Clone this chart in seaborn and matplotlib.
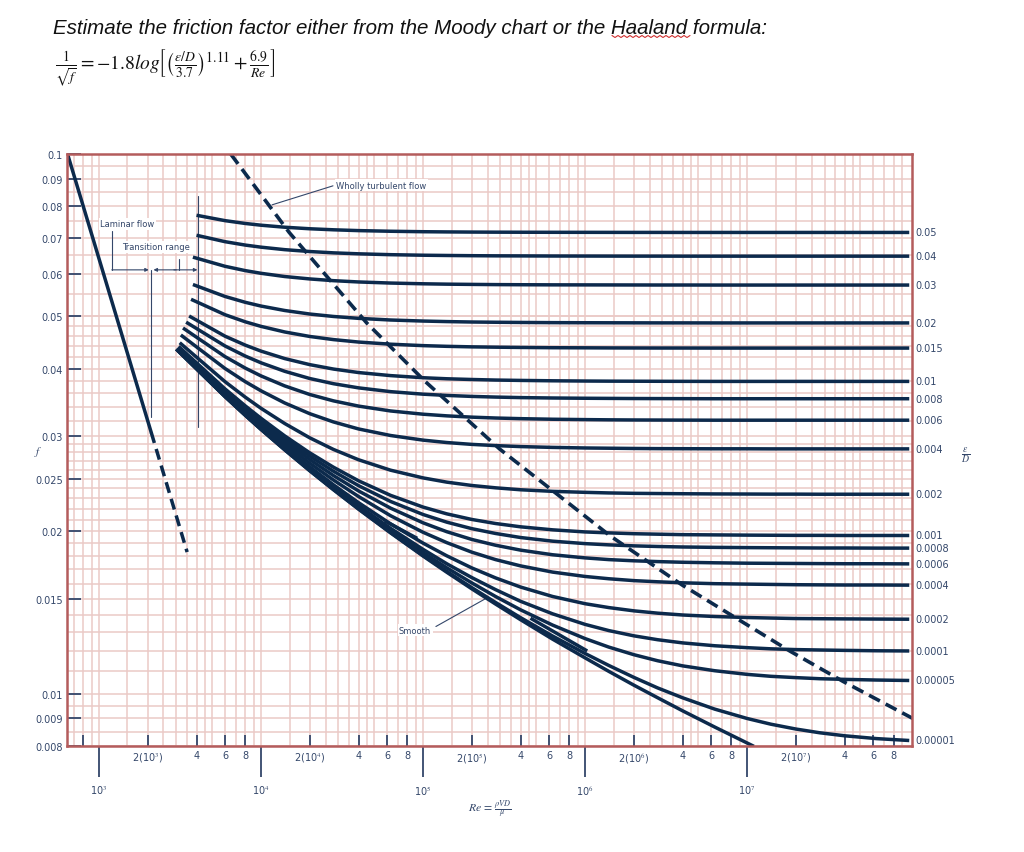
import matplotlib.pyplot as plt
import matplotlib.transforms as mtransforms
from matplotlib.lines import Line2D
from matplotlib.ticker import FixedLocator, FixedFormatter, NullLocator, NullFormatter
import seaborn as sns
import numpy as np
import pandas as pd


# relative roughness of each curve (labels on the right edge)
eps_labels = ['0.05', '0.04', '0.03', '0.02', '0.015', '0.01', '0.008', '0.006',
              '0.004', '0.002', '0.001', '0.0008', '0.0006', '0.0004', '0.0002',
              '0.0001', '0.00005', '0.00001']

# where each curve starts on the left (Re, f)
start_re = [4000, 4000, 3800, 3800, 3700, 3600, 3450, 3300, 3200, 3150,
            3100, 3100, 3080, 3060, 3040, 3020, 3010, 3000]
start_f = [0.0770, 0.0707, 0.0644, 0.0573, 0.0538, 0.0501, 0.0488, 0.0476, 0.0462,
           0.0447, 0.0440, 0.0438, 0.0436, 0.0436, 0.0435, 0.0435, 0.0435, 0.0435]

# f at these Reynolds numbers
re_grid = [6e3, 8e3, 1e4, 1.4e4, 2e4, 2.8e4, 4e4, 6.3e4, 1e5, 1.4e5, 2e5, 2.8e5, 4e5, 6.3e5,
           1e6, 1.4e6, 2e6, 2.8e6, 4e6, 6.3e6, 1e7, 1.4e7, 2e7, 2.8e7, 4e7, 6.3e7, 1e8]
f_rows = [
    [0.07525, 0.07435, 0.07380, 0.07317, 0.07269, 0.07237, 0.07212, 0.07192, 0.07178, 0.07172,
     0.07167, 0.07164, 0.07162, 0.07160, 0.07159, 0.07158, 0.07157, 0.07157] + [0.07156] * 9,
    [0.06879, 0.06780, 0.06720, 0.06649, 0.06596, 0.06559, 0.06532, 0.06508, 0.06493, 0.06486,
     0.06480, 0.06476, 0.06474, 0.06471, 0.06470, 0.06469, 0.06468, 0.06468] + [0.06467] * 9,
    [0.06193, 0.06080, 0.06011, 0.05929, 0.05868, 0.05825, 0.05793, 0.05766, 0.05748, 0.05739,
     0.05733, 0.05728, 0.05725, 0.05722, 0.05721, 0.05720, 0.05719, 0.05718, 0.05718] + [0.05717] * 8,
    [0.05445, 0.05311, 0.05227, 0.05129, 0.05052, 0.05000, 0.04960, 0.04925, 0.04903, 0.04892,
     0.04883, 0.04878, 0.04874, 0.04870, 0.04868, 0.04867, 0.04866, 0.04865, 0.04865] + [0.04864] * 8,
    [0.05037, 0.04887, 0.04793, 0.04680, 0.04591, 0.04530, 0.04483, 0.04442, 0.04415, 0.04402,
     0.04392, 0.04386, 0.04381, 0.04376, 0.04374, 0.04372, 0.04371, 0.04370, 0.04370] + [0.04369] * 8,
    [0.04596, 0.04424, 0.04313, 0.04178, 0.04071, 0.03995, 0.03936, 0.03885, 0.03850, 0.03833,
     0.03821, 0.03812, 0.03806, 0.03800, 0.03796, 0.03794, 0.03793, 0.03792, 0.03791] + [0.03790] * 8,
    [0.04408, 0.04222, 0.04103, 0.03957, 0.03837, 0.03753, 0.03687, 0.03628, 0.03589, 0.03570,
     0.03555, 0.03545, 0.03537, 0.03531, 0.03527, 0.03525, 0.03523, 0.03522, 0.03521] + [0.03520] * 8,
    [0.04212, 0.04011, 0.03880, 0.03718, 0.03584, 0.03488, 0.03411, 0.03341, 0.03295, 0.03272,
     0.03254, 0.03242, 0.03233, 0.03225, 0.03220, 0.03217, 0.03215, 0.03214, 0.03213] + [0.03212] * 8,
    [0.04004, 0.03785, 0.03641, 0.03457, 0.03302, 0.03188, 0.03094, 0.03009, 0.02950, 0.02920,
     0.02897, 0.02882, 0.02870, 0.02860, 0.02853, 0.02850, 0.02847, 0.02845, 0.02844, 0.02843,
     0.02843] + [0.02842] * 6,
    [0.03785, 0.03543, 0.03379, 0.03167, 0.02979, 0.02835, 0.02713, 0.02595, 0.02511, 0.02466,
     0.02431, 0.02407, 0.02387, 0.02371, 0.02361, 0.02355, 0.02351, 0.02349, 0.02347, 0.02345,
     0.02344, 0.02343, 0.02343] + [0.02342] * 4,
    [0.03670, 0.03414, 0.03238, 0.03004, 0.02794, 0.02628, 0.02480, 0.02331, 0.02217, 0.02154,
     0.02103, 0.02067, 0.02038, 0.02012, 0.01994, 0.01986, 0.01979, 0.01975, 0.01971, 0.01969,
     0.01967, 0.01966, 0.01965, 0.01965, 0.01964, 0.01964, 0.01964],
    [0.03647, 0.03387, 0.03209, 0.02971, 0.02755, 0.02583, 0.02429, 0.02271, 0.02148, 0.02079,
     0.02022, 0.01981, 0.01947, 0.01917, 0.01897, 0.01887, 0.01879, 0.01874, 0.01870, 0.01867,
     0.01865, 0.01864, 0.01863, 0.01862, 0.01862, 0.01861, 0.01861],
    [0.03623, 0.03360, 0.03180, 0.02937, 0.02715, 0.02536, 0.02375, 0.02207, 0.02073, 0.01996,
     0.01931, 0.01884, 0.01845, 0.01809, 0.01785, 0.01772, 0.01763, 0.01757, 0.01752, 0.01748,
     0.01745, 0.01744, 0.01743, 0.01742, 0.01741, 0.01741, 0.01740],
    [0.03600, 0.03332, 0.03150, 0.02902, 0.02673, 0.02488, 0.02319, 0.02137, 0.01991, 0.01905,
     0.01829, 0.01772, 0.01725, 0.01680, 0.01649, 0.01633, 0.01620, 0.01612, 0.01605, 0.01599,
     0.01596, 0.01594, 0.01592, 0.01591, 0.01590, 0.01590, 0.01589],
    [0.03575, 0.03305, 0.03119, 0.02865, 0.02632, 0.02438, 0.02259, 0.02064, 0.01901, 0.01801,
     0.01710, 0.01639, 0.01576, 0.01514, 0.01468, 0.01444, 0.01424, 0.01410, 0.01399, 0.01390,
     0.01384, 0.01381, 0.01378, 0.01377, 0.01376, 0.01375, 0.01374],
    [0.03563, 0.03291, 0.03104, 0.02849, 0.02610, 0.02413, 0.02229, 0.02025, 0.01851, 0.01741,
     0.01641, 0.01559, 0.01483, 0.01406, 0.01344, 0.01309, 0.01280, 0.01259, 0.01242, 0.01227,
     0.01217, 0.01211, 0.01207, 0.01205, 0.01203, 0.01201, 0.01200],
    [0.03556, 0.03284, 0.03096, 0.02840, 0.02599, 0.02400, 0.02213, 0.02006, 0.01826, 0.01711,
     0.01604, 0.01514, 0.01430, 0.01340, 0.01265, 0.01220, 0.01181, 0.01151, 0.01126, 0.01103,
     0.01086, 0.01077, 0.01071, 0.01066, 0.01063, 0.01060, 0.01058],
    [0.03552, 0.03280, 0.03089, 0.02832, 0.02591, 0.02390, 0.02201, 0.01989, 0.01804, 0.01685,
     0.01572, 0.01476, 0.01383, 0.01279, 0.01187, 0.01128, 0.01072, 0.01025, 0.009826, 0.009364,
     0.008996, 0.008780, 0.008600, 0.008465, 0.008356, 0.008256, 0.008190],
]

# smooth pipe curve (runs off the bottom near Re = 1e7)
smooth_re = [3000, 6e3, 8e3, 1e4, 1.4e4, 2e4, 2.8e4, 4e4, 6.3e4, 1e5, 1.4e5, 2e5, 2.8e5,
             4e5, 6.3e5, 1e6, 1.4e6, 2e6, 2.8e6, 4e6, 6.3e6, 1e7, 1.1e7]
smooth_f = [0.0435, 0.03551, 0.03279, 0.03088, 0.02830, 0.02588, 0.02387, 0.02197, 0.01986,
            0.01799, 0.01679, 0.01564, 0.01466, 0.01371, 0.01262, 0.01165, 0.01100, 0.01037,
            0.00983, 0.009294, 0.008675, 0.008102, 0.007988]

# two short extra strokes inside the lower bundle
strokeA_re = [5.8e4, 9.2e4]
strokeA_f = [0.0209, 0.0194]
strokeB_re = [4.6e5, 1.03e6]
strokeB_f = [0.0138, 0.0120]

# laminar flow line, solid then dashed into the critical zone
lam_re = [640, 2100]
lam_f = [0.100, 0.0305]
lam_dash_re = [2100, 3500]
lam_dash_f = [0.0305, 0.0183]

# boundary of the wholly turbulent region
wt_re = [6.5e3, 1.49e4, 4.5e4, 1.03e5, 2.97e5, 1.43e6, 3.97e6, 1.83e7, 3.9e7, 1.05e8]
wt_f = [0.100, 0.0716, 0.0486, 0.0379, 0.0284, 0.0196, 0.0159, 0.0120, 0.01054, 0.0090]

# axis ticks
y_ticks = [0.1, 0.09, 0.08, 0.07, 0.06, 0.05, 0.04, 0.03, 0.025, 0.02, 0.015, 0.01, 0.009, 0.008]
y_labels = ['0.1', '0.09', '0.08', '0.07', '0.06', '0.05', '0.04', '0.03', '0.025',
            '0.02', '0.015', '0.01', '0.009', '0.008']
x_major = [1e3, 1e4, 1e5, 1e6, 1e7]
x_major_labels = [r'10$^3$', r'10$^4$', r'10$^5$', r'10$^6$', r'10$^7$']


NAVY = '#0c2a4c'
INK = '#34476a'
GRID = '#ebcac6'
FRAME = '#b45c5c'

sns.set_style('white')
plt.rcParams['font.family'] = ['DejaVu Sans']
plt.rcParams['mathtext.fontset'] = 'stix'

fig = plt.figure(figsize=(10.24, 8.53), dpi=100)
ax = fig.add_axes([67 / 1024, 1 - 747 / 853, 845 / 1024, 592 / 853])
ax.set_xscale('log')
ax.set_yscale('log')
ax.set_xlim(635, 1.04e8)
ax.set_ylim(0.008, 0.1)

# graph-paper grid
v_mult = [1, 1.5, 2, 2.5, 3, 3.5, 4, 4.5, 5, 6, 7, 8, 9]
for dec in [1e2, 1e3, 1e4, 1e5, 1e6, 1e7]:
    for m in v_mult:
        ax.axvline(m * dec, color=GRID, lw=1.1, zorder=0)
h_lines = np.concatenate([np.arange(0.008, 0.0100, 0.0005), np.arange(0.010, 0.030, 0.001),
                          np.arange(0.030, 0.050, 0.002), np.arange(0.050, 0.1001, 0.005)])
for h in h_lines:
    ax.axhline(round(h, 5), color=GRID, lw=1.1, zorder=0)

# long-form table of all curves
rows = []
for i, lab in enumerate(eps_labels):
    for r, f in zip([start_re[i]] + re_grid, [start_f[i]] + f_rows[i]):
        rows.append({'curve': lab, 'Re': r, 'f': f})
for name, rr, ff in [('smooth', smooth_re, smooth_f), ('strokeA', strokeA_re, strokeA_f),
                     ('strokeB', strokeB_re, strokeB_f)]:
    for r, f in zip(rr, ff):
        rows.append({'curve': name, 'Re': r, 'f': f})
df = pd.DataFrame(rows)

sns.lineplot(data=df, x='Re', y='f', units='curve', estimator=None, sort=False,
             color=NAVY, lw=2.5, ax=ax, legend=False, zorder=3,
             solid_joinstyle='round', solid_capstyle='butt')

ax.plot(lam_re, lam_f, color=NAVY, lw=2.5, zorder=3)
ax.plot(lam_dash_re, lam_dash_f, color=NAVY, lw=2.5, linestyle=(0, (3.2, 1.8)), zorder=3)
ax.plot(wt_re, wt_f, color=NAVY, lw=2.6, linestyle=(0, (3.4, 1.8)), zorder=3)

# labels at the right end of every curve
trans = mtransforms.blended_transform_factory(ax.transAxes, ax.transData)
for lab, row in zip(eps_labels, f_rows):
    ax.text(1.004, row[-1], lab, transform=trans, ha='left', va='center',
            fontsize=7, color=INK, clip_on=False)

# axes styling
ax.set_xlabel('')
ax.set_ylabel('')
for sp in ax.spines.values():
    sp.set_color(FRAME)
    sp.set_linewidth(1.8)
    sp.set_zorder(4)

ax.yaxis.set_major_locator(FixedLocator(y_ticks))
ax.yaxis.set_major_formatter(FixedFormatter(y_labels))
ax.yaxis.set_minor_locator(NullLocator())
ax.yaxis.set_minor_formatter(NullFormatter())
ax.tick_params(axis='y', which='major', direction='in', length=10, width=1.3,
               color=INK, labelcolor=INK, labelsize=7, pad=3, left=True)

x_minor = [8e2]
x_minor_labels = ['']
for k in [3, 4, 5, 6, 7]:
    for m in [2, 4, 6, 8]:
        x_minor.append(m * 10 ** k)
        x_minor_labels.append(r'2(10$^{%d}$)' % k if m == 2 else str(m))
ax.xaxis.set_major_locator(FixedLocator(x_major))
ax.xaxis.set_major_formatter(FixedFormatter(x_major_labels))
ax.xaxis.set_minor_locator(FixedLocator(x_minor))
ax.xaxis.set_minor_formatter(FixedFormatter(x_minor_labels))
ax.tick_params(axis='x', which='major', direction='out', length=22, width=1.3,
               color=INK, labelcolor=INK, labelsize=7, pad=5, bottom=True)
ax.tick_params(axis='x', which='minor', direction='in', length=8, width=1.3,
               color=INK, labelcolor=INK, labelsize=7, pad=3, bottom=True)

# annotations inside the chart
box = dict(facecolor='white', edgecolor='none', pad=1.0)
ax.text(1.02e3, 0.0742, 'Laminar flow', fontsize=6, color=INK, ha='left', va='center', bbox=box, zorder=5)
ax.text(1.39e3, 0.0673, 'Transition range', fontsize=6, color=INK, ha='left', va='center', bbox=box, zorder=5)
ax.text(2.9e4, 0.0876, 'Wholly turbulent flow', fontsize=6, color=INK, ha='left', va='center', bbox=box, zorder=5)
ax.text(7.1e4, 0.0131, 'Smooth', fontsize=6, color=INK, ha='left', va='center', bbox=box, zorder=5)

thin = dict(color=INK, lw=0.8, zorder=2)
ax.plot([2.78e4, 1.17e4], [0.0873, 0.0805], **thin)
ax.plot([1.2e5, 2.41e5], [0.01332, 0.01498], **thin)
ax.plot([1.2e3, 1.2e3], [0.0720, 0.0610], **thin)
ax.plot([3.1e3, 3.1e3], [0.0639, 0.0610], **thin)
ax.plot([2.1e3, 2.1e3], [0.0610, 0.0326], **thin)
ax.plot([4.1e3, 4.1e3], [0.0836, 0.0312], **thin)
arr = dict(arrowstyle='-|>', color=INK, lw=0.8, shrinkA=0, shrinkB=0, mutation_scale=5)
ax.annotate('', xy=(2.03e3, 0.0610), xytext=(1.2e3, 0.0610), arrowprops=arr)
ax.annotate('', xy=(2.17e3, 0.0610), xytext=(3.0e3, 0.0610), arrowprops=arr)
ax.annotate('', xy=(4.05e3, 0.0610), xytext=(2.9e3, 0.0610), arrowprops=arr)

# text outside the axes
fig.text(53 / 1024, 1 - 28 / 853, 'Estimate the friction factor either from the Moody chart or the Haaland formula:',
         fontsize=14.8, style='italic', family=['Liberation Sans', 'DejaVu Sans'], color='#111111',
         ha='left', va='center')
fig.text(55 / 1024, 1 - 68 / 853,
         r'$\frac{1}{\sqrt{f}}=-1.8log\left[\left(\frac{\epsilon/D}{3.7}\right)^{1.11}+\frac{6.9}{Re}\right]$',
         fontsize=14, color='#111111', ha='left', va='center')
wx = np.arange(612, 693, 3) / 1024
wy = (1 - np.where(np.arange(len(wx)) % 2 == 0, 36.5, 38.5) / 853)
fig.add_artist(Line2D(wx, wy, color='#d03030', lw=0.8))

fig.text(38 / 1024, 1 - 452 / 853, r'$f$', fontsize=8, color=INK, ha='center', va='center')
fig.text(966 / 1024, 1 - 456 / 853, r'$\frac{\varepsilon}{D}$', fontsize=10, color=INK, ha='center', va='center')
fig.text(490 / 1024, 1 - 810 / 853, r'$Re\,=\,\frac{\rho VD}{\mu}$', fontsize=8.5, color=INK, ha='center', va='center')

fig.savefig('out.png', dpi=100)
